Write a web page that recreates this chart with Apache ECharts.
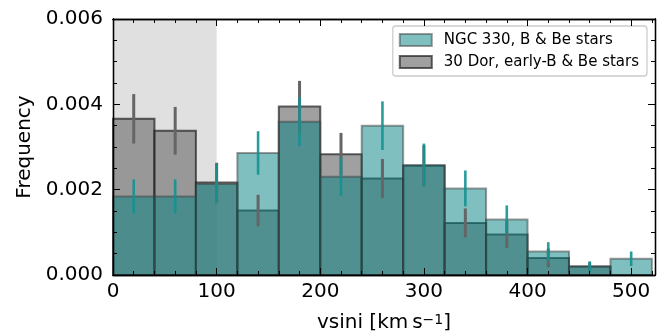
<!DOCTYPE html>
<html>
<head>
<meta charset="utf-8">
<script src="https://cdn.jsdelivr.net/npm/echarts@6/dist/echarts.min.js"></script>
<style>
  html, body { margin: 0; padding: 0; background: #fff; }
  #chart { width: 664px; height: 336px; }
</style>
</head>
<body>
<div id="chart"></div>
<script>
// histogram bins, km/s
var binEdges = [0, 40, 80, 120, 160, 200, 240, 280, 320, 360, 400, 440, 480, 520];
// NGC 330 frequencies and errors
var ngcFreq = [0.00184, 0.00184, 0.00213, 0.00286, 0.00359, 0.00230, 0.00350, 0.00258, 0.00203, 0.00130, 0.00055, 0.00020, 0.00038];
var ngcErr  = [0.00040, 0.00040, 0.00046, 0.00051, 0.00057, 0.00045, 0.00057, 0.00050, 0.00042, 0.00033, 0.00022, 0.00012, 0.00017];
// 30 Dor frequencies and errors
var dorFreq = [0.00366, 0.00338, 0.00217, 0.00151, 0.00395, 0.00283, 0.00226, 0.00256, 0.00122, 0.00095, 0.00040, 0.00020, 0];
var dorErr  = [0.00058, 0.00056, 0.00046, 0.00037, 0.00060, 0.00050, 0.00046, 0.00048, 0.00034, 0.00032, 0.00022, 0.00010, 0];
// shaded region
var shadeRange = [0, 100];
// ticks
var xMajor = [0, 100, 200, 300, 400, 500];
var xMinor = [20, 40, 60, 80, 120, 140, 160, 180, 220, 240, 260, 280, 320, 340, 360, 380, 420, 440, 460, 480, 520];
var yMajor = [0, 0.002, 0.004, 0.006];
var yMinor = [0.0005, 0.001, 0.0015, 0.0025, 0.003, 0.0035, 0.0045, 0.005, 0.0055];

var ngcName = 'NGC 330, B & Be stars';
var dorName = '30 Dor, early-B & Be stars';
var font = '"DejaVu Sans", sans-serif';

function barData(freq) {
  var out = [];
  for (var i = 0; i < freq.length; i++) out.push([binEdges[i], binEdges[i + 1], freq[i]]);
  return out;
}
function errData(freq, err) {
  var out = [];
  for (var i = 0; i < freq.length; i++) {
    if (err[i] > 0) out.push([(binEdges[i] + binEdges[i + 1]) / 2, freq[i] - err[i], freq[i] + err[i]]);
  }
  return out;
}
function barItem(fill, edge) {
  return function (params, api) {
    var p0 = api.coord([api.value(0), api.value(2)]);
    var p1 = api.coord([api.value(1), 0]);
    return {
      type: 'rect',
      shape: { x: p0[0], y: p0[1], width: p1[0] - p0[0], height: p1[1] - p0[1] },
      style: { fill: fill, stroke: edge, lineWidth: 2 }
    };
  };
}
function errItem(color, w) {
  return function (params, api) {
    var a = api.coord([api.value(0), api.value(1)]);
    var b = api.coord([api.value(0), api.value(2)]);
    return { type: 'line', shape: { x1: a[0], y1: a[1], x2: b[0], y2: b[1] }, style: { stroke: color, lineWidth: w } };
  };
}

function xAx(pos, ticks, len, labels) {
  return {
    type: 'value', position: pos, min: 0, max: 523, z: 10,
    axisLine: { show: true, onZero: false, lineStyle: { color: '#000', width: 1.3 } },
    axisTick: { show: true, inside: true, length: len, customValues: ticks, lineStyle: { color: '#000', width: 1 } },
    axisLabel: labels ? { show: true, customValues: ticks, color: '#000', fontSize: 20, fontFamily: font, margin: 7 } : { show: false },
    splitLine: { show: false }
  };
}
function yAx(pos, ticks, len, labels) {
  return {
    type: 'value', position: pos, min: 0, max: 0.006, z: 10,
    axisLine: { show: true, onZero: false, lineStyle: { color: '#000', width: 1.3 } },
    axisTick: { show: true, inside: true, length: len, customValues: ticks, lineStyle: { color: '#000', width: 1 } },
    axisLabel: labels ? { show: true, customValues: ticks, color: '#000', fontSize: 20, fontFamily: font, margin: 10,
      formatter: function (v) { return v.toFixed(3); } } : { show: false },
    splitLine: { show: false }
  };
}

var xAxes = [xAx('bottom', xMajor, 7, true), xAx('bottom', xMinor, 4, false), xAx('top', xMajor, 7, false), xAx('top', xMinor, 4, false)];
xAxes[0].name = '{a|vsini [km\u2009s}{s|\u22121}{a|]}';
xAxes[0].nameLocation = 'middle';
xAxes[0].nameGap = 38;
xAxes[0].nameTextStyle = {
  rich: {
    a: { fontSize: 20, fontFamily: font, color: '#000' },
    s: { fontSize: 14, fontFamily: font, color: '#000', verticalAlign: 'top', padding: [0, 0, 6, 0] }
  }
};
var yAxes = [yAx('left', yMajor, 7, true), yAx('left', yMinor, 4, false), yAx('right', yMajor, 7, false), yAx('right', yMinor, 4, false)];
yAxes[0].name = 'Frequency';
yAxes[0].nameLocation = 'middle';
yAxes[0].nameGap = 78;
yAxes[0].nameTextStyle = { fontSize: 20, fontFamily: font, color: '#000' };

var chart = echarts.init(document.getElementById('chart'));
chart.setOption({
  animation: false,
  backgroundColor: '#fff',
  grid: { left: 113, right: 9, top: 19, bottom: 61, outerBoundsMode: 'none' },
  xAxis: xAxes,
  yAxis: yAxes,
  legend: {
    orient: 'vertical', right: 17, top: 26,
    padding: [5, 8, 5, 6], itemGap: 4,
    itemWidth: 32, itemHeight: 12, icon: 'rect',
    backgroundColor: 'rgba(255,255,255,0.8)', borderColor: '#cccccc', borderWidth: 1.3, borderRadius: 3,
    textStyle: { fontSize: 15, fontFamily: font, color: '#000', lineHeight: 18, padding: [0, 0, 0, 7] },
    data: [ngcName, dorName]
  },
  series: [
    {
      type: 'custom', name: 'shade', z: 1, silent: true,
      data: [shadeRange],
      renderItem: function (params, api) {
        var a = api.coord([api.value(0), 0.006]);
        var b = api.coord([api.value(1), 0]);
        return { type: 'rect', shape: { x: a[0], y: a[1], width: b[0] - a[0], height: b[1] - a[1] }, style: { fill: '#e0e0e0' } };
      }
    },
    {
      type: 'custom', name: dorName, z: 2,
      itemStyle: { color: 'rgba(128,128,128,0.75)', borderColor: 'rgba(20,20,20,0.65)', borderWidth: 2 },
      data: barData(dorFreq),
      renderItem: barItem('rgba(128,128,128,0.75)', 'rgba(20,20,20,0.65)')
    },
    {
      type: 'custom', name: ngcName, z: 3,
      itemStyle: { color: 'rgba(0,128,128,0.5)', borderColor: 'rgba(60,60,60,0.5)', borderWidth: 2 },
      data: barData(ngcFreq),
      renderItem: barItem('rgba(0,128,128,0.5)', 'rgba(60,60,60,0.5)')
    },
    {
      type: 'custom', name: 'dorErr', z: 4, silent: true,
      data: errData(dorFreq, dorErr),
      renderItem: errItem('#656565', 3)
    },
    {
      type: 'custom', name: 'ngcErr', z: 5, silent: true,
      data: errData(ngcFreq, ngcErr),
      renderItem: errItem('rgba(20,145,145,0.9)', 2.6)
    }
  ]
});
</script>
</body>
</html>
